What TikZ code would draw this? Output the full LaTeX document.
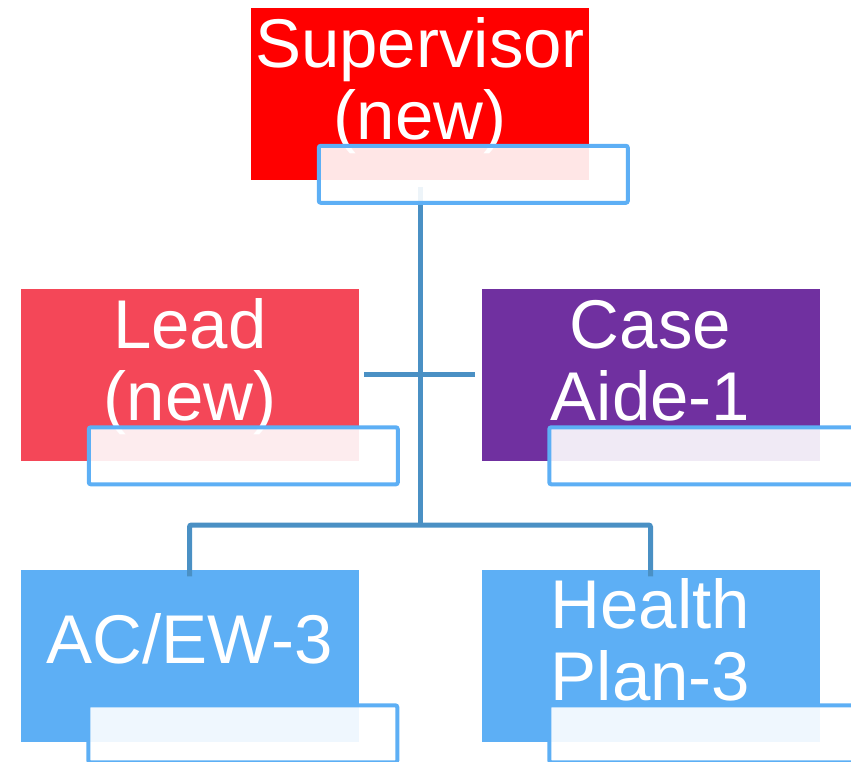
\documentclass[tikz,border=0pt]{standalone}
\usepackage{fontspec}
\setmainfont{Liberation Sans}
\usetikzlibrary{positioning}
\definecolor{BossRed}{RGB}{255,0,0}
\definecolor{LeadRose}{RGB}{244,71,88}
\definecolor{AidePurple}{RGB}{112,48,160}
\definecolor{StaffBlue}{RGB}{93,175,245}
\definecolor{LinkBlue}{RGB}{74,144,196}

\begin{document}
\begin{tikzpicture}[x=1pt,y=-1pt,
    role/.style={fill=#1,minimum width=338pt,minimum height=172pt,inner sep=0pt},
    tag/.style={text=white,align=center,inner sep=0pt,anchor=base,
      font=\fontsize{69}{72}\selectfont},
    note/.style={draw=StaffBlue,line width=4pt,fill=white,fill opacity=0.9,
      rounded corners=2pt,minimum width=309pt,minimum height=57pt,inner sep=0pt,
      anchor=north west},
    link/.style={LinkBlue,line width=5pt}]
  \clip (0,0) rectangle (851,762);
  % boxes
  \node[role=BossRed]    (sup)  at (420,94)    {};
  \node[role=LeadRose]   (lead) at (190,374.5) {};
  \node[role=AidePurple] (aide) at (650.5,374.5) {};
  \node[role=StaffBlue]  (acew) at (189.5,655.5) {};
  \node[role=StaffBlue]  (plan) at (650.5,655.5) {};
  % titles (base sits on the last line)
  \node[tag] (suptext)  at ([yshift=-132pt]sup.north)  {Supervisor\\(new)};
  \node[tag] (leadtext) at ([yshift=-132pt]lead.north) {Lead\\(new)};
  \node[tag] (aidetext) at ([yshift=-132pt]aide.north) {Case\\Aide-1};
  \node[tag] (acewtext) at ([yshift=-94pt]acew.north)  {AC/EW-3};
  \node[tag] (plantext) at ([yshift=-131pt]plan.north) {Health\\Plan-3};
  % connectors
  \coordinate (hub) at (420,525);
  \draw[link] (sup.south) ++(0,7) -- (hub);
  \draw[link] ([xshift=5pt]lead.east) -- ([xshift=-6pt]aide.west);
  \draw[link,rounded corners=2pt] ([yshift=-7pt]acew.north) |- (hub)
    -| ([yshift=-7pt]plan.north);
  % notes on top
  \node[note] (supnote)  at ([xshift=66pt,yshift=-136pt]sup.north west)  {};
  \node[note] (leadnote) at ([xshift=66pt,yshift=-137pt]lead.north west) {};
  \node[note] (aidenote) at ([xshift=66pt,yshift=-137pt]aide.north west) {};
  \node[note] (acewnote) at ([xshift=66pt,yshift=-134pt]acew.north west) {};
  \node[note] (plannote) at ([xshift=66pt,yshift=-134pt]plan.north west) {};
\end{tikzpicture}
\end{document}
